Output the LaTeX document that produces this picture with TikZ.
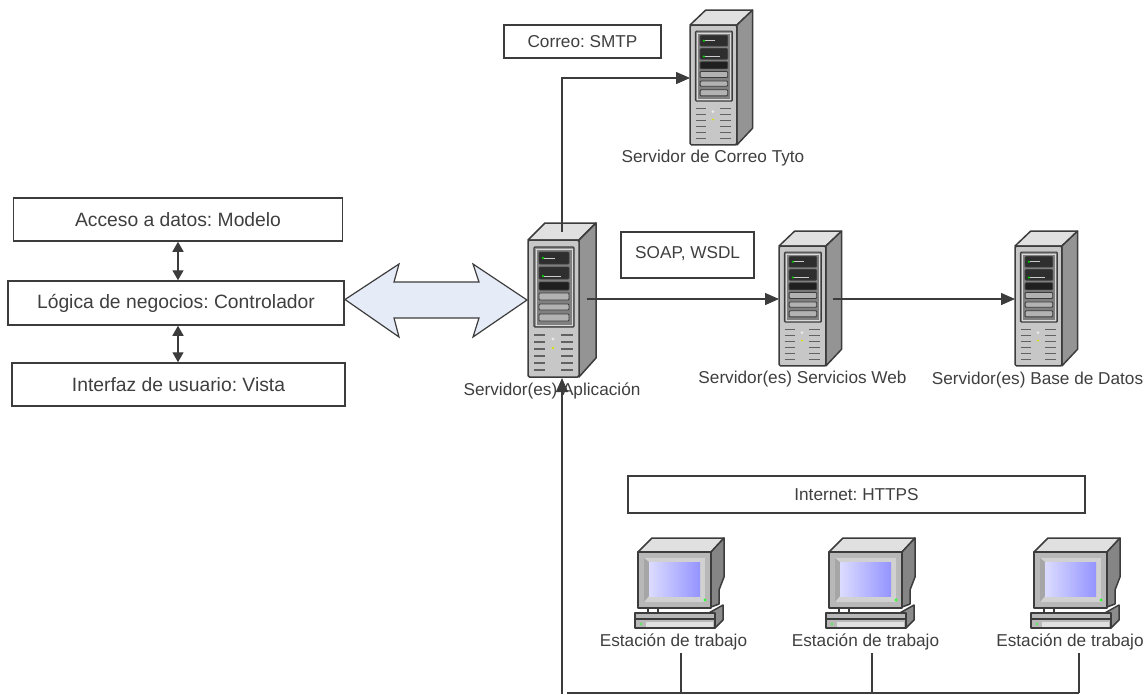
\documentclass[tikz,border=0pt]{standalone}
\usepackage{fontspec}
\setmainfont{Liberation Sans}
\usetikzlibrary{arrows.meta}
\frenchspacing
\definecolor{ink}{HTML}{3C3C3C}
\definecolor{txt}{HTML}{3F3F3F}
\definecolor{blockfill}{HTML}{E6ECF7}
\tikzset{
  every node/.style={text=txt},
  bigtext/.style={font=\fontsize{19.3}{22}\selectfont},
  midtext/.style={font=\fontsize{17.2}{20}\selectfont},
  box/.style={draw=ink,line width=1.5pt,fill=white,inner sep=0pt},
  lab/.style={inner sep=0pt,midtext},
  link/.style={draw=ink,line width=1.4pt},
  tip/.style={-{Triangle[length=14pt,width=12pt]}},
  tips/.style={{Triangle[length=10pt,width=11pt]}-{Triangle[length=10pt,width=11pt]}},
  outl/.style={draw=ink,line width=1.5pt,line join=round},
  slot/.style={draw=ink,line width=.9pt,rounded corners=1pt}
}
% #1 name, #2 x, #3 y of front top-left, #4 x scale, #5 y scale
\newcommand{\serverbox}[5]{%
 \begin{scope}[shift={(#2,#3)},x=#4pt,y=-#5pt]
  \fill[outl,fill=black!12] (0,0)--(17,-17)--(68,-17)--(51,0)--cycle;
  \fill[outl,fill=black!42] (51,0)--(68,-17)--(68,118)--(51,137)--cycle;
  \fill[outl,fill=black!22,rounded corners=1.5pt] (0,0) rectangle (51,137);
  \fill[draw=ink,line width=1.2pt,fill=black!42,rounded corners=1pt] (6,7) rectangle (46,87);
  \fill[draw=black!15,line width=.7pt,fill=black!50] (8,9) rectangle (44,85);
  \fill[slot,fill=black!82] (11,12) rectangle (41,24);
  \fill[slot,fill=black!82] (11,27) rectangle (41,39);
  \fill[slot,fill=black!88] (11,42) rectangle (41,50);
  \fill[slot,fill=black!30] (11,53) rectangle (41,60);
  \fill[slot,fill=black!30] (11,64) rectangle (41,70);
  \fill[slot,fill=black!30] (11,74) rectangle (41,81);
  \fill[green!80!black] (15,18) circle (1.4);
  \fill[green!80!black] (15,36) circle (1.4);
  \draw[black!20,line width=.9pt] (16,18)--(27,18);
  \draw[black!20,line width=.9pt] (16,36)--(33,36);
  \foreach \yy in {95,102,109,116,123,130}{
    \draw[black!62,line width=1.1pt] (6,\yy)--(17,\yy) (33,\yy)--(45,\yy);}
  \fill[yellow!85!green] (25,108) circle (1.3);
  \fill[black!8] (25,99) circle (1.6);
 \end{scope}}
% #1 x, #2 y of the monitor front top-left
\newcommand{\stationbox}[2]{%
 \begin{scope}[shift={(#1,#2)},x=1pt,y=-1pt]
  \fill[outl,fill=black!12] (0,0)--(14,-14)--(86,-14)--(73,0)--cycle;
  \fill[outl,fill=black!48] (73,0)--(86,-14)--(86,25)--(81,38)--(81,52)--(73,55)--cycle;
  \fill[outl,fill=black!28] (0,0) rectangle (73,56);
  \fill[black!18] (6,6) rectangle (67,50);
  \fill[black!35] (6,6)--(11,10)--(11,44)--(6,50)--cycle;
  \shade[left color=blue!14,right color=blue!42] (11,10) rectangle (62,44);
  \fill[green!80] (67,48) circle (1.6);
  \fill[outl,fill=black!45] (69,62)--(85,53)--(85,68)--(77,76)--cycle;
  \fill[outl,fill=black!28] (-3,61) rectangle (77,76);
  \draw[ink,line width=1.5pt] (-3,67)--(77,67);
  \draw[ink,line width=1.2pt] (0,56)--(73,56) (10,56)--(10,61) (20,56)--(20,61);
  \fill[black!12] (8,70) rectangle (75,75);
  \fill[green!80] (3,72) circle (1.2);
 \end{scope}}
\begin{document}
\begin{tikzpicture}[x=1pt,y=-1pt]
\useasboundingbox (0,0) rectangle (1148,694);
% left stack
\node[box,bigtext,minimum width=329pt,minimum height=43pt] (acc) at (178,219.5) {Acceso a datos: Modelo};
\node[box,bigtext,minimum width=336pt,minimum height=44pt] (log) at (176,303) {Lógica de negocios: Controlador};
\node[box,bigtext,minimum width=333pt,minimum height=43pt] (itf) at (178.5,384.5) {Interfaz de usuario: Vista};
\draw[link,tips] (acc.south -| 178,0) -- (log.north -| 178,0);
\draw[link,tips] (log.south -| 178,0) -- (itf.north -| 178,0);
% servers
\serverbox{app}{528}{240}{1}{1}
\serverbox{mail}{690}{25}{.92}{.875}
\serverbox{web}{779}{246}{.92}{.875}
\serverbox{db}{1015}{246}{.92}{.875}
% text boxes
\node[box,midtext,minimum width=157pt,minimum height=33pt] (smtp) at (582.5,41.5) {Correo: SMTP};
\node[box,minimum width=133pt,minimum height=46pt] (soap) at (687.5,255) {};
\node[lab,anchor=west] (soapt) at (635,254) {SOAP, WSDL};
\node[box,midtext,minimum width=457pt,minimum height=37pt] (inet) at (856.5,494.5) {Internet: HTTPS};
% block arrow
\fill[draw=ink,line width=1.2pt,fill=blockfill,line join=miter]
 (345,299.5)--(399,264)--(394,282)--(479,282)--(473,264)--(527,300)--(473,337)--(479,318)--(394,318)--(399,337)--cycle;
% labels
\node[lab] (lmail) at (713,158) {Servidor de Correo Tyto};
\node[lab] (lapp) at (552,391) {Servidor(es) Aplicación};
\node[lab] (lweb) at (802.5,379) {Servidor(es) Servicios Web};
\node[lab] (ldb) at (1037.5,380) {Servidor(es) Base de Datos};
% stations
\stationbox{638}{552}
\stationbox{829}{552}
\stationbox{1034}{552}
\node[lab] (e1) at (673.5,642) {Estación de trabajo};
\node[lab] (e2) at (865.5,642) {Estación de trabajo};
\node[lab] (e3) at (1070,642) {Estación de trabajo};
% connectors
\coordinate (b0) at (562,694);
\coordinate (bs) at (567,693);
\coordinate (b1) at (681,693);
\coordinate (b2) at (872,693);
\coordinate (b3) at (1079,693);
\coordinate (t1) at (681,653);
\coordinate (t2) at (872,653);
\coordinate (t3) at (1079,653);
\coordinate (mc) at (562,78);
\coordinate (ml) at (690,78);
\coordinate (wl) at (779,299);
\coordinate (dl) at (1015,299);
\coordinate (wr) at (833,299);
\coordinate (ar) at (587,299);
\coordinate (at) at (562,232);
\coordinate (ab) at (562,378);
\draw[link,tip] (at) -- (mc) -- (ml);
\draw[link,tip] (ar) -- (wl);
\draw[link,tip] (wr) -- (dl);
\draw[link,tip] (b0) -- (ab);
\draw[link] (bs) -- (b3);
\draw[link] (t1) -- (b1);
\draw[link] (t2) -- (b2);
\draw[link] (t3) -- (b3);
\end{tikzpicture}
\end{document}
